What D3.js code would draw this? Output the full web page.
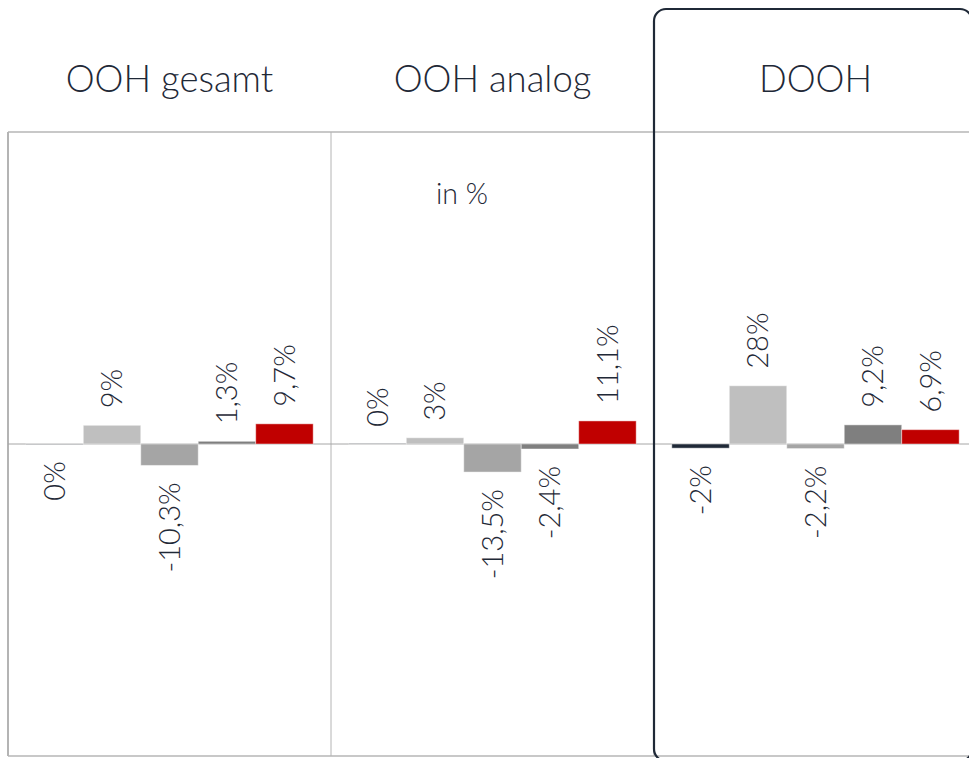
<!DOCTYPE html>
<html>
<head>
<meta charset="utf-8">
<script src="https://cdn.jsdelivr.net/npm/d3@7"></script>
<style>
  html, body { margin: 0; padding: 0; background: #fff; }
  svg text { font-family: Lato, "Open Sans", sans-serif; font-weight: 300; fill: #1f2937; }
</style>
</head>
<body>
<svg id="chart" width="969" height="758"></svg>
<script>
// panels and the five bars inside each
const panels = ['OOH gesamt', 'OOH analog', 'DOOH'];
const series = ['s1', 's2', 's3', 's4', 's5'];
const colors = ['#1f2937', '#bfbfbf', '#a5a5a5', '#7f7f7f', '#c00000'];

// values in %, one array per panel
const oohGesamt = [-0.1, 9, -10.3, 1.3, 9.7];
const oohAnalog = [0.1, 3, -13.5, -2.4, 11.1];
const dooh = [-2, 28, -2.2, 9.2, 6.9];

const labelsGesamt = ['0%', '9%', '-10,3%', '1,3%', '9,7%'];
const labelsAnalog = ['0%', '3%', '-13,5%', '-2,4%', '11,1%'];
const labelsDooh = ['-2%', '28%', '-2,2%', '9,2%', '6,9%'];

const values = [oohGesamt, oohAnalog, dooh];
const labels = [labelsGesamt, labelsAnalog, labelsDooh];

const subtitle = 'in %';

let svg = d3.select('#chart'),
    left = 8,
    panelW = 323,
    plotTop = 132,
    plotBottom = 756;

let xPanel = d3.scaleBand()
    .domain(panels)
    .range([left, left + panelW * panels.length]);

let xBar = d3.scaleBand()
    .domain(series)
    .range([0, panelW])
    .paddingOuter(0.31)
    .paddingInner(0);

let y = d3.scaleLinear()
    .domain([-150, 150])
    .range([plotBottom, plotTop]);

let color = d3.scaleOrdinal(series, colors);

// grid frame
let grid = svg.append('g').attr('stroke', '#b4b4b4').attr('fill', 'none');
grid.append('line')
    .attr('x1', left).attr('x2', 969)
    .attr('y1', plotTop).attr('y2', plotTop)
    .attr('stroke-width', 2).attr('stroke', '#c8c8c8');
grid.append('line')
    .attr('x1', left).attr('x2', 969)
    .attr('y1', plotBottom).attr('y2', plotBottom)
    .attr('stroke-width', 2).attr('stroke', '#c8c8c8');
grid.selectAll('.vline')
    .data(panels)
    .enter().append('line')
    .attr('class', 'vline')
    .attr('x1', d => xPanel(d)).attr('x2', d => xPanel(d))
    .attr('y1', plotTop).attr('y2', plotBottom)
    .attr('stroke-width', d => d === panels[0] ? 2 : 1);

// zero line
svg.append('line')
    .attr('x1', left).attr('x2', 969)
    .attr('y1', y(0)).attr('y2', y(0))
    .attr('stroke', '#a6a6a6')
    .attr('stroke-width', 1);

// panel titles
svg.selectAll('.title')
    .data(panels)
    .enter().append('text')
    .attr('class', 'title')
    .attr('x', d => xPanel(d) + panelW / 2)
    .attr('y', 92)
    .attr('text-anchor', 'middle')
    .style('font-size', '36.5px')
    .text(d => d);

svg.append('text')
    .attr('x', 462)
    .attr('y', 204)
    .attr('text-anchor', 'middle')
    .style('font-size', '28.5px')
    .text(subtitle);

panels.forEach(function (p, pi) {
    let g = svg.append('g').attr('transform', 'translate(' + xPanel(p) + ',0)');
    let rows = series.map((s, i) => ({ s: s, v: values[pi][i], label: labels[pi][i] }));

    g.selectAll('rect')
        .data(rows)
        .enter().append('rect')
        .attr('x', d => xBar(d.s))
        .attr('width', xBar.bandwidth())
        .attr('y', d => Math.min(y(d.v), y(0)))
        .attr('height', d => Math.abs(y(d.v) - y(0)))
        .attr('fill', d => color(d.s))
        .attr('stroke', 'rgba(255,255,255,0.45)')
        .attr('stroke-width', 1);

    g.selectAll('.val')
        .data(rows)
        .enter().append('text')
        .attr('class', 'val')
        .attr('transform', function (d) {
            let cx = xBar(d.s) + xBar.bandwidth() / 2;
            let cy = d.v >= 0 ? y(d.v) - 17 : y(d.v) + 17;
            return 'translate(' + cx + ',' + cy + ') rotate(-90)';
        })
        .attr('dy', '0.36em')
        .attr('text-anchor', d => d.v >= 0 ? 'start' : 'end')
        .style('font-size', '29px')
        .text(d => d.label);
});

// highlight box round DOOH
svg.append('rect')
    .attr('x', xPanel('DOOH'))
    .attr('y', 9)
    .attr('width', 318)
    .attr('height', 752)
    .attr('rx', 12)
    .attr('fill', 'none')
    .attr('stroke', '#1f2937')
    .attr('stroke-width', 2.2);
</script>
</body>
</html>
